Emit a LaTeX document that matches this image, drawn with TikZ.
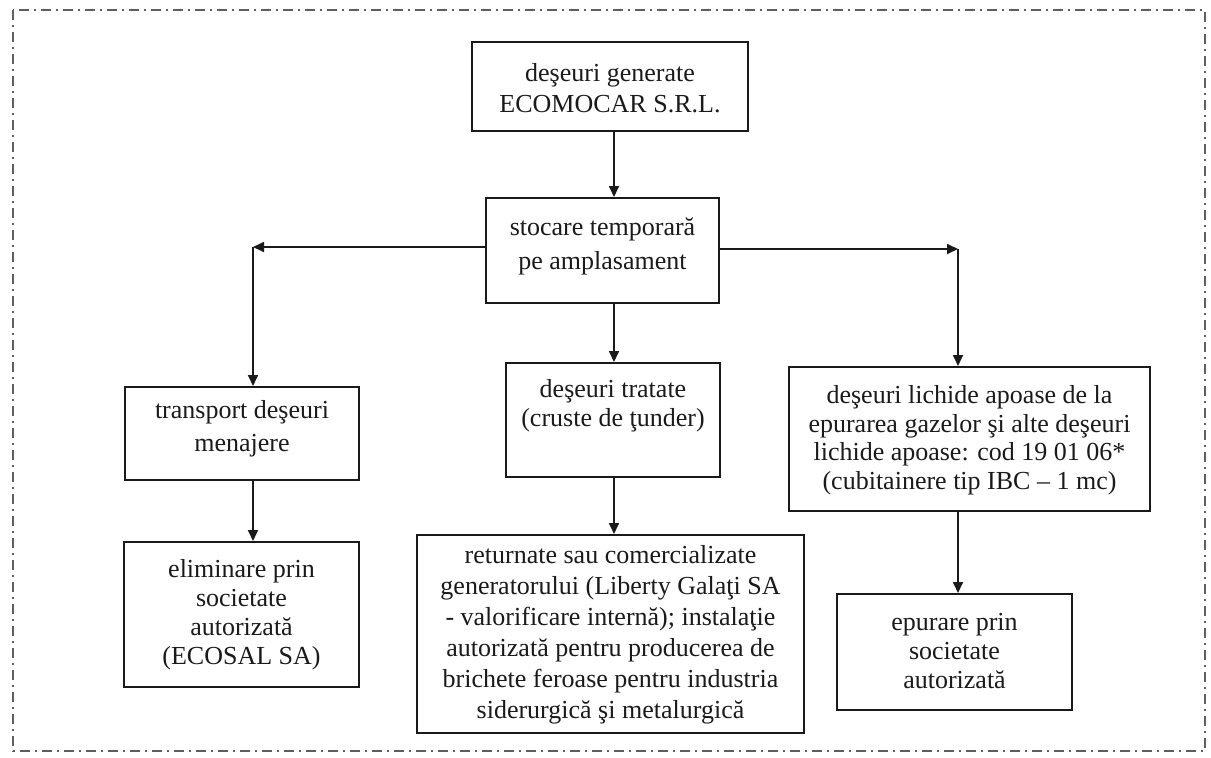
\documentclass[tikz,border=0pt]{standalone}
\usepackage{fontspec}
\setmainfont{Liberation Serif}
\usetikzlibrary{arrows.meta}
\definecolor{ink}{HTML}{1A1A1A}
\begin{document}
\begin{tikzpicture}[x=0.5pt,y=-0.5pt,
  boxn/.style={draw=ink,line width=1pt,inner sep=0pt,rectangle},
  txt/.style={text=ink,align=center,inner sep=0pt},
  arr/.style={draw=ink,line width=0.85pt,-{Triangle[length=5.5pt,width=5pt]}},
  frame/.style={draw=ink!70,line width=0.6pt,dash pattern=on 5pt off 2.5pt on 1pt off 2.5pt}]
\useasboundingbox (0,0) rectangle (1211,757);
\draw[frame] (13,10) rectangle (1205,751);
% boxes
\node[boxn,minimum width=138pt,minimum height=44.5pt] (b1) at (610,86.5) {};
\node[boxn,minimum width=116.5pt,minimum height=52.5pt] (b2) at (602.5,250.5) {};
\node[boxn,minimum width=117pt,minimum height=46.5pt] (b3) at (242,433.5) {};
\node[boxn,minimum width=107pt,minimum height=57pt] (b4) at (613,420) {};
\node[boxn,minimum width=180.5pt,minimum height=72pt] (b5) at (969.5,439) {};
\node[boxn,minimum width=117.5pt,minimum height=72.5pt] (b6) at (241.5,614.5) {};
\node[boxn,minimum width=193.5pt,minimum height=99pt] (b7) at (610.5,634) {};
\node[boxn,minimum width=117.5pt,minimum height=58pt] (b8) at (954.5,652) {};
% texts
\node[txt,font=\fontsize{13}{15.5}\selectfont] (t1) at (610,88) {deşeuri generate\\ECOMOCAR S.R.L.};
\node[txt,font=\fontsize{13}{17}\selectfont] (t2) at (602.5,246) {stocare temporară\\pe amplasament};
\node[txt,font=\fontsize{13}{16.5}\selectfont] (t3) at (242,429) {transport deşeuri\\menajere};
\node[txt,font=\fontsize{13}{14.5}\selectfont] (t4) at (613,406) {deşeuri tratate\\(cruste de ţunder)};
\node[txt,font=\fontsize{13}{14.25}\selectfont] (t5) at (969.5,440) {deşeuri lichide apoase de la\\epurarea gazelor şi alte deşeuri\\lichide apoase: cod 19 01 06*\\(cubitainere tip IBC – 1 mc)};
\node[txt,font=\fontsize{13}{14.5}\selectfont] (t6) at (241.5,615) {eliminare prin\\societate\\autorizată\\(ECOSAL SA)};
\node[txt,font=\fontsize{13}{15.5}\selectfont] (t7) at (610.5,635) {returnate sau comercializate\\generatorului (Liberty Galaţi SA\\- valorificare internă); instalaţie\\autorizată pentru producerea de\\brichete feroase pentru industria\\siderurgică şi metalurgică};
\node[txt,font=\fontsize{13}{14.5}\selectfont] (t8) at (954.5,651) {epurare prin\\societate\\autorizată};
% helper coordinates
\coordinate (xm) at (614,0);
\coordinate (xl) at (253,0);
\coordinate (xr) at (958,0);
\coordinate (cL) at (253,247);
\coordinate (cR) at (958,249);
% connectors
\draw[arr] (b1.south -| xm) -- (b2.north -| xm);
\draw[arr] (b2.west |- cL) -- (cL);
\draw[arr] (cL) -- (b3.north -| xl);
\draw[arr] (b2.east |- cR) -- (cR);
\draw[arr] (cR) -- (b5.north -| xr);
\draw[arr] (b2.south -| xm) -- (b4.north -| xm);
\draw[arr] (b3.south -| xl) -- (b6.north -| xl);
\draw[arr] (b4.south -| xm) -- (b7.north -| xm);
\draw[arr] (b5.south -| xr) -- (b8.north -| xr);
\end{tikzpicture}
\end{document}
